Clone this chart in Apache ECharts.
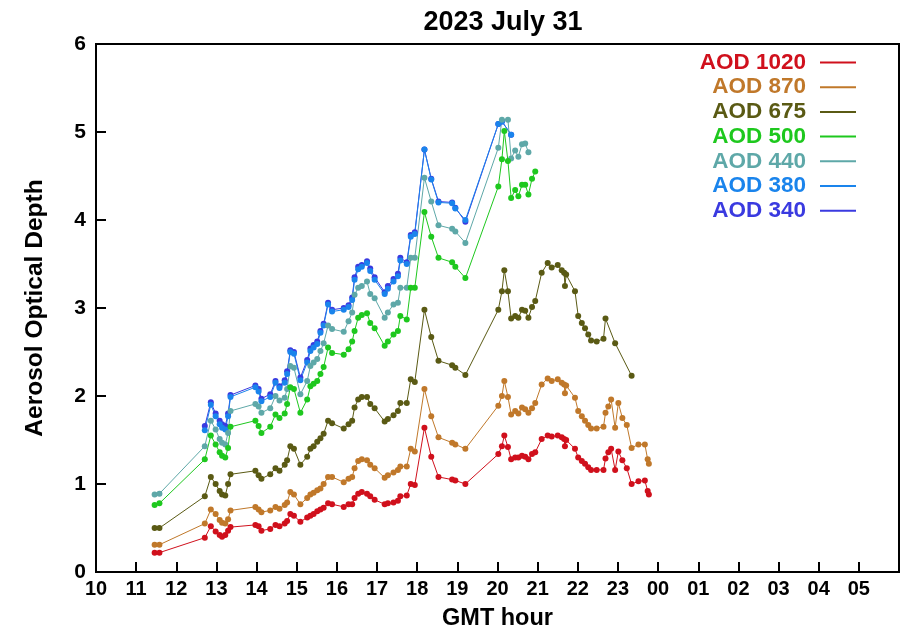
<!DOCTYPE html>
<html><head><meta charset="utf-8">
<script src="https://cdn.jsdelivr.net/npm/echarts@6/dist/echarts.min.js"></script>
<style>html,body{margin:0;padding:0;background:#fff}#c{width:902px;height:636px}</style>
</head><body><div id="c"></div>
<script>
// Observation times (GMT hour; values > 24 would be next day)
const T = [11.46, 11.58, 12.71, 12.86, 12.98, 13.08, 13.14, 13.22, 13.29, 13.35,
  13.97, 14.05, 14.12, 14.34, 14.47, 14.57, 14.70, 14.76, 14.84, 14.93,
  15.09, 15.26, 15.34, 15.42, 15.51, 15.59, 15.67, 15.78, 15.88, 16.17,
  16.29, 16.38, 16.44, 16.53, 16.62, 16.75, 16.83, 16.94, 17.19, 17.27,
  17.41, 17.52, 17.58, 17.74, 17.84, 17.94, 18.18, 18.35, 18.53, 18.87,
  18.95, 19.20, 20.02, 20.11, 20.17, 20.26, 20.34, 20.44, 20.52, 20.61,
  20.69, 20.77, 20.86, 20.94, 21.10, 21.25, 21.35, 21.50, 21.60, 21.66,
  21.68, 21.71, 21.93, 22.01, 22.10, 22.18, 22.26, 22.33, 22.47, 22.64,
  22.69, 22.76, 22.83, 22.93, 23.01, 23.11, 23.22, 23.34, 23.51, 23.67,
  23.74, 23.77];

const aod1020 = [0.22, 0.22, 0.39, 0.52, 0.46, 0.42, 0.40, 0.42, 0.47, 0.51,
  0.535, 0.52, 0.47, 0.49, 0.535, 0.52, 0.55, 0.58, 0.66, 0.64,
  0.57, 0.62, 0.64, 0.66, 0.69, 0.71, 0.73, 0.78, 0.77, 0.74,
  0.77, 0.77, 0.84, 0.89, 0.91, 0.89, 0.86, 0.82, 0.77, 0.78,
  0.79, 0.81, 0.86, 0.87, 1.00, 0.99, 1.64, 1.31, 1.08, 1.05,
  1.04, 1.00, 1.34, 1.43, 1.55, 1.42, 1.28, 1.30, 1.30, 1.32,
  1.31, 1.28, 1.34, 1.36, 1.51, 1.55, 1.54, 1.55, 1.53, 1.51,
  1.43, 1.50, 1.40, 1.30, 1.26, 1.23, 1.19, 1.16, 1.16, 1.16,
  1.29, 1.36, 1.40, 1.16, 1.37, 1.27, 1.18, 1.00, 1.03, 1.04,
  0.92, 0.88];

const aod870 = [0.31, 0.31, 0.55, 0.71, 0.66, 0.59, 0.56, 0.55, 0.60, 0.70,
  0.74, 0.71, 0.68, 0.70, 0.74, 0.72, 0.76, 0.79, 0.91, 0.88,
  0.77, 0.84, 0.88, 0.90, 0.93, 0.95, 1.00, 1.08, 1.08, 1.02,
  1.06, 1.08, 1.18, 1.26, 1.28, 1.27, 1.22, 1.18, 1.07, 1.10,
  1.13, 1.16, 1.20, 1.20, 1.40, 1.37, 2.08, 1.77, 1.53, 1.47,
  1.45, 1.40, 1.89, 2.00, 2.17, 1.99, 1.79, 1.83, 1.80, 1.87,
  1.85, 1.81, 1.86, 1.92, 2.13, 2.20, 2.17, 2.19, 2.15, 2.13,
  2.03, 2.12, 1.98, 1.83, 1.77, 1.72, 1.67, 1.63, 1.63, 1.65,
  1.81, 1.88, 1.96, 1.64, 1.92, 1.75, 1.67, 1.41, 1.45, 1.45,
  1.28, 1.23];

const aod675 = [0.50, 0.50, 0.86, 1.08, 1.00, 0.92, 0.88, 0.87, 1.00, 1.11,
  1.15, 1.10, 1.06, 1.11, 1.18, 1.15, 1.22, 1.27, 1.43, 1.40,
  1.22, 1.31, 1.40, 1.43, 1.48, 1.52, 1.57, 1.72, 1.69, 1.63,
  1.68, 1.72, 1.87, 1.96, 1.99, 1.99, 1.91, 1.86, 1.71, 1.74,
  1.78, 1.83, 1.92, 1.92, 2.19, 2.16, 2.98, 2.67, 2.40, 2.35,
  2.32, 2.24, 2.98, 3.19, 3.43, 3.19, 2.88, 2.91, 2.89, 2.98,
  2.97, 2.89, 3.01, 3.08, 3.40, 3.51, 3.46, 3.49, 3.43, 3.40,
  3.25, 3.38, 3.19, 2.91, 2.83, 2.77, 2.70, 2.63, 2.62, 2.65,
  2.88, null, null, 2.60, null, null, null, 2.23, null, null,
  null, null];

const aod500 = [0.76, 0.78, 1.28, 1.55, 1.45, 1.36, 1.32, 1.30, 1.41, 1.65,
  1.72, 1.66, 1.58, 1.65, 1.79, 1.75, 1.80, 1.91, 2.10, 2.08,
  1.81, 1.96, 2.11, 2.14, 2.17, 2.25, 2.33, 2.55, 2.49, 2.47,
  2.53, 2.62, 2.74, 2.89, 2.92, 2.94, 2.83, 2.77, 2.57, 2.62,
  2.70, 2.74, 2.91, 2.87, 3.23, 3.23, 4.09, 3.81, 3.57, 3.52,
  3.47, 3.34, 4.38, 4.69, 5.01, 4.67, 4.25, 4.34, 4.27, 4.40,
  4.40, 4.29, 4.47, 4.55];

const aod440 = [0.88, 0.89, 1.43, 1.72, 1.62, 1.51, 1.47, 1.45, 1.58, 1.83,
  1.91, 1.88, 1.81, 1.86, 2.00, 1.95, 1.98, 2.08, 2.34, 2.32,
  2.02, 2.17, 2.34, 2.38, 2.42, 2.51, 2.60, 2.80, 2.76, 2.73,
  2.85, 2.95, 3.15, 3.23, 3.25, 3.30, 3.16, 3.11, 2.89, 2.95,
  3.04, 3.06, 3.23, 3.23, 3.57, 3.57, 4.48, 4.21, 3.94, 3.90,
  3.87, 3.74, 4.82, 5.14, null, 5.14, 4.70, 4.79, 4.72, 4.86,
  4.87, 4.77];

const aod380 = [null, null, 1.61, 1.90, 1.77, 1.68, 1.64, 1.62, 1.77, 1.99,
  2.10, 2.05, 1.94, 1.99, 2.15, 2.09, 2.15, 2.25, 2.50, 2.48,
  2.18, 2.38, 2.51, 2.55, 2.59, 2.72, 2.80, 3.04, 2.96, 2.98,
  3.01, 3.09, 3.32, 3.44, 3.47, 3.51, 3.42, 3.32, 3.16, 3.22,
  3.30, 3.36, 3.54, 3.50, 3.81, 3.84, 4.80, 4.46, 4.20, 4.19,
  4.13, 4.00, 5.09, 5.12, null, null, 4.97];

const aod340 = [null, null, 1.66, 1.93, 1.80, 1.72, 1.68, 1.66, 1.80, 2.01,
  2.12, 2.08, 1.97, 2.02, 2.17, 2.11, 2.18, 2.28, 2.52, 2.50,
  2.21, 2.41, 2.54, 2.58, 2.62, 2.74, 2.82, 3.06, 2.98, 3.00,
  3.03, 3.12, 3.35, 3.47, 3.49, 3.53, 3.45, 3.35, 3.18, 3.25,
  3.33, 3.39, 3.57, 3.52, 3.83, 3.86, 4.80, 4.47, 4.21, 4.20,
  4.14, 3.98, 5.09, 5.12, null, null, 4.97];

const seriesNames = ['AOD 1020', 'AOD 870', 'AOD 675', 'AOD 500', 'AOD 440', 'AOD 380', 'AOD 340'];
const seriesValues = [aod1020, aod870, aod675, aod500, aod440, aod380, aod340];
const seriesColors = ['#d0101c', '#c0782a', '#5a5a14', '#1ec81e', '#5ea8a8', '#1a84ec', '#3a3ae0'];

const FONT = 'Liberation Sans, Arial, Helvetica, sans-serif';

function pairs(vals) {
  const out = [];
  vals.forEach((v, i) => { if (v !== null && v !== undefined) out.push([T[i], v]); });
  return out;
}

const series = [];
for (let k = seriesNames.length - 1; k >= 0; k--) {
  series.push({
    name: seriesNames[k],
    type: 'line',
    data: pairs(seriesValues[k]),
    symbol: 'circle',
    symbolSize: 6,
    showSymbol: true,
    itemStyle: { color: seriesColors[k] },
    lineStyle: { color: seriesColors[k], width: 1 },
    emphasis: { disabled: true },
    animation: false
  });
}

const chart = echarts.init(document.getElementById('c'), null, { renderer: 'canvas' });
chart.setOption({
  backgroundColor: '#fff',
  animation: false,
  title: {
    text: '2023 July 31',
    left: 498, top: 4, textAlign: 'center',
    textStyle: { fontFamily: FONT, fontWeight: 'bold', fontSize: 27, color: '#000' }
  },
  legend: {
    orient: 'vertical',
    right: 41, top: 46,
    align: 'right',
    icon: 'rect',
    itemWidth: 36, itemHeight: 2,
    itemGap: 1.7,
    selectedMode: false,
    textStyle: { fontFamily: FONT, fontWeight: 'bold', fontSize: 22.5, lineHeight: 22, padding: [0, 9, 0, 0] },
    data: seriesNames.map((n, i) => ({ name: n, textStyle: { color: seriesColors[i] }, itemStyle: { color: seriesColors[i] } }))
  },
  grid: { left: 96, right: 3, top: 44, bottom: 61, show: true, borderColor: '#000', borderWidth: 2, containLabel: false },
  xAxis: {
    type: 'value', min: 10, max: 30, interval: 1,
    name: 'GMT hour', nameLocation: 'middle', nameGap: 35,
    nameTextStyle: { fontFamily: FONT, fontWeight: 'bold', fontSize: 23.5, color: '#000' },
    axisLine: { show: true, lineStyle: { color: '#000', width: 2 } },
    axisTick: { show: true, inside: true, length: 10, lineStyle: { color: '#000', width: 2 } },
    axisLabel: {
      fontFamily: FONT, fontWeight: 'bold', fontSize: 20, color: '#000', margin: 7,
      formatter: v => (v >= 30 ? '' : String(Math.round(v) % 24).padStart(2, '0'))
    },
    splitLine: { show: false }
  },
  yAxis: {
    type: 'value', min: 0, max: 6, interval: 1,
    name: 'Aerosol Optical Depth', nameLocation: 'middle', nameGap: 48, nameRotate: 90,
    nameTextStyle: { fontFamily: FONT, fontWeight: 'bold', fontSize: 24.5, color: '#000' },
    axisLine: { show: true, lineStyle: { color: '#000', width: 2 } },
    axisTick: { show: true, inside: true, length: 10, lineStyle: { color: '#000', width: 2 } },
    axisLabel: { fontFamily: FONT, fontWeight: 'bold', fontSize: 21, color: '#000', margin: 10 },
    splitLine: { show: false }
  },
  series: series
});
</script>
</body></html>
